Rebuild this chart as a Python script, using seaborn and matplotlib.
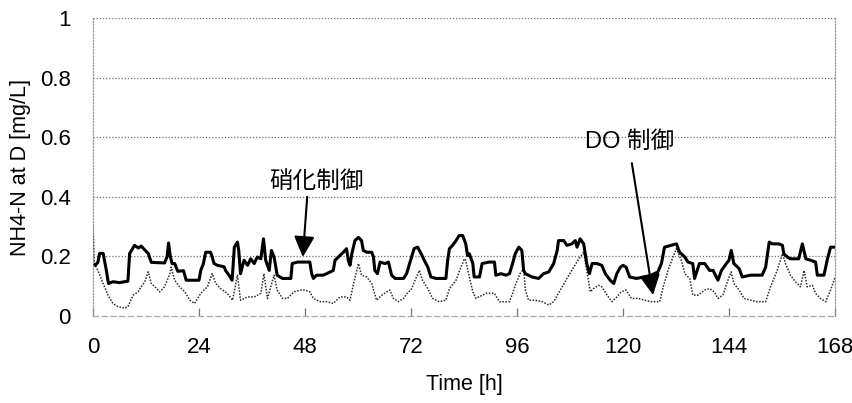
import numpy as np
import pandas as pd
import matplotlib
matplotlib.use("Agg")
import matplotlib.pyplot as plt
import seaborn as sns

# ---- data ----
t_nitri = [0, 0.5, 1.1, 1.5, 2.3, 3.0, 3.5, 4.5, 6.0, 7.9, 8.3, 9.4, 10.3, 10.9, 11.5, 12.5, 13.2, 16.2, 16.8, 17.1,
           17.5, 17.9, 18.5, 19.2, 20.5, 21.1, 23.0, 24.0, 24.4, 25.0, 25.5, 26.6, 27.0, 27.4, 28.2, 29.7, 30.0, 30.8,
           31.5, 32.0, 32.7, 33.0, 33.4, 34.2, 35.0, 35.7, 36.5, 37.2, 38.0, 38.6, 39.1, 39.9, 40.4, 41.0, 41.7, 42.9,
           44.8, 45.1, 46.3, 47.0, 49.1, 49.5, 49.9, 50.6, 52.1, 52.9, 54.4, 54.8, 55.9, 56.7, 57.4, 57.8, 58.2, 58.6,
           59.3, 60.1, 60.8, 61.2, 62.0, 63.1, 63.5, 63.8, 64.4, 65.0, 66.1, 66.9, 67.6, 68.4, 70.3, 71.0, 71.8, 72.7,
           73.5, 74.3, 75.0, 75.8, 76.5, 77.7, 79.9, 80.3, 80.7, 81.4, 82.2, 82.9, 83.7, 84.4, 84.8, 85.2, 86.0, 86.3,
           87.5, 88.1, 89.7, 90.9, 91.2, 92.4, 93.5, 94.3, 95.0, 95.6, 96.4, 97.1, 97.5, 97.9, 99.4, 100.9, 102.0,
           103.2, 104.3, 105.1, 105.4, 106.6, 107.3, 108.4, 109.2, 109.6, 110.3, 111.1, 111.8, 112.4, 113.0, 114.1,
           115.2, 116.0, 117.1, 117.9, 118.6, 119.4, 120.0, 120.7, 121.5, 123.0, 124.9, 126.4, 127.9, 128.7, 129.4,
           130.9, 132.1, 132.8, 134.0, 134.7, 135.8, 136.2, 137.3, 138.5, 139.6, 140.4, 141.5, 142.3, 143.4, 144.0,
           144.5, 145.1, 146.3, 147.0, 148.9, 150.8, 151.5, 152.3, 153.1, 153.8, 155.3, 156.1, 156.4, 157.2, 157.9,
           159.8, 160.6, 161.4, 162.5, 163.6, 164.0, 165.5, 166.3, 167.0, 168.0]
v_nitri = [0.176, 0.17, 0.18, 0.21, 0.21, 0.155, 0.109, 0.115, 0.112, 0.117, 0.21, 0.237, 0.228, 0.235, 0.225, 0.21,
           0.18, 0.178, 0.2, 0.245, 0.2, 0.176, 0.176, 0.15, 0.152, 0.12, 0.12, 0.12, 0.153, 0.176, 0.214, 0.214,
           0.198, 0.176, 0.17, 0.165, 0.153, 0.137, 0.12, 0.231, 0.248, 0.22, 0.142, 0.187, 0.17, 0.192, 0.176, 0.198,
           0.192, 0.259, 0.187, 0.153, 0.22, 0.198, 0.137, 0.126, 0.126, 0.176, 0.181, 0.181, 0.181, 0.142, 0.126,
           0.137, 0.137, 0.142, 0.153, 0.187, 0.203, 0.214, 0.226, 0.187, 0.17, 0.209, 0.253, 0.264, 0.253, 0.22,
           0.214, 0.214, 0.198, 0.153, 0.142, 0.181, 0.176, 0.181, 0.137, 0.126, 0.126, 0.142, 0.181, 0.226, 0.231,
           0.209, 0.187, 0.164, 0.131, 0.126, 0.126, 0.187, 0.226, 0.237, 0.253, 0.27, 0.27, 0.242, 0.203, 0.209,
           0.176, 0.131, 0.131, 0.176, 0.181, 0.181, 0.137, 0.142, 0.137, 0.142, 0.176, 0.209, 0.231, 0.22, 0.153,
           0.142, 0.131, 0.126, 0.142, 0.148, 0.176, 0.22, 0.253, 0.253, 0.237, 0.242, 0.253, 0.231, 0.259, 0.242,
           0.176, 0.142, 0.176, 0.176, 0.17, 0.142, 0.12, 0.109, 0.142, 0.164, 0.17, 0.164, 0.131, 0.126, 0.131,
           0.137, 0.148, 0.176, 0.231, 0.237, 0.242, 0.214, 0.198, 0.181, 0.176, 0.126, 0.176, 0.176, 0.153, 0.153,
           0.12, 0.153, 0.176, 0.187, 0.22, 0.176, 0.159, 0.131, 0.137, 0.137, 0.137, 0.164, 0.248, 0.242, 0.242,
           0.237, 0.209, 0.198, 0.192, 0.192, 0.242, 0.192, 0.187, 0.181, 0.137, 0.137, 0.192, 0.231, 0.231]

t_do = [0, 0.3, 1.1, 2.3, 3.4, 4.5, 5.7, 7.2, 7.9, 9.1, 10.2, 10.9, 11.7, 12.5, 13.2, 14.0, 15.1, 16.2, 17.4, 17.7,
        18.5, 19.6, 20.8, 21.9, 23.0, 24.4, 25.9, 27.0, 27.8, 28.9, 30.4, 31.6, 32.7, 33.4, 35.0, 36.5, 38.0, 38.7,
        39.5, 41.0, 41.7, 42.9, 44.0, 45.5, 47.0, 48.0, 49.1, 49.9, 51.4, 52.9, 54.4, 55.9, 57.4, 58.2, 58.9, 60.1,
        60.8, 62.0, 63.1, 64.2, 65.4, 66.5, 67.2, 68.0, 69.1, 70.3, 71.4, 72.0, 73.1, 73.9, 74.6, 75.8, 76.9, 78.4,
        79.9, 80.7, 82.2, 83.3, 84.1, 84.4, 85.2, 86.0, 86.7, 89.0, 90.9, 92.0, 94.3, 95.0, 95.6, 96.7, 97.5, 97.9,
        98.6, 100.1, 101.7, 103.2, 104.3, 105.8, 107.3, 108.4, 110.0, 111.1, 111.8, 112.6, 113.3, 114.5, 115.2,
        116.4, 117.5, 118.6, 119.6, 120.7, 121.9, 123.4, 124.9, 126.4, 128.3, 129.1, 130.2, 131.3, 132.1, 133.2,
        134.0, 135.1, 135.8, 137.0, 138.5, 139.6, 140.7, 141.5, 142.6, 143.6, 144.5, 145.1, 146.3, 147.4, 148.9,
        150.4, 152.3, 153.4, 154.9, 156.1, 156.8, 157.9, 159.1, 160.2, 161.0, 161.7, 162.9, 163.6, 164.7, 165.9,
        167.0, 168.0]
v_do = [0.3, 0.176, 0.153, 0.109, 0.07, 0.042, 0.031, 0.026, 0.031, 0.07, 0.081, 0.098, 0.114, 0.148, 0.109, 0.098,
        0.081, 0.098, 0.142, 0.164, 0.12, 0.098, 0.081, 0.053, 0.042, 0.076, 0.098, 0.142, 0.109, 0.092, 0.076,
        0.053, 0.137, 0.053, 0.064, 0.064, 0.076, 0.142, 0.059, 0.137, 0.087, 0.059, 0.059, 0.081, 0.087, 0.087,
        0.081, 0.059, 0.048, 0.048, 0.042, 0.064, 0.064, 0.053, 0.103, 0.176, 0.137, 0.131, 0.109, 0.053, 0.07,
        0.081, 0.087, 0.059, 0.048, 0.059, 0.081, 0.087, 0.126, 0.153, 0.12, 0.092, 0.059, 0.048, 0.053, 0.092,
        0.12, 0.164, 0.192, 0.187, 0.131, 0.081, 0.059, 0.076, 0.076, 0.048, 0.048, 0.076, 0.103, 0.142, 0.159,
        0.087, 0.053, 0.053, 0.048, 0.037, 0.048, 0.087, 0.126, 0.153, 0.192, 0.214, 0.153, 0.081, 0.092, 0.103,
        0.098, 0.07, 0.048, 0.064, 0.081, 0.087, 0.059, 0.059, 0.053, 0.048, 0.048, 0.098, 0.153, 0.198, 0.226,
        0.187, 0.142, 0.126, 0.07, 0.07, 0.087, 0.092, 0.081, 0.059, 0.07, 0.114, 0.148, 0.109, 0.087, 0.059,
        0.053, 0.048, 0.048, 0.098, 0.153, 0.209, 0.176, 0.137, 0.114, 0.098, 0.153, 0.098, 0.103, 0.076, 0.059,
        0.048, 0.087, 0.13]

x_ticks = [0, 24, 48, 72, 96, 120, 144, 168]
y_ticks = [0, 0.2, 0.4, 0.6, 0.8, 1.0]
y_tick_labels = ["0", "0.2", "0.4", "0.6", "0.8", "1"]

label_nitri = "硝化制御"
label_do = "DO 制御"

df_n = pd.DataFrame({"t": t_nitri, "v": v_nitri})
df_d = pd.DataFrame({"t": t_do, "v": v_do})

sns.set_theme(style="white")
plt.rcParams["font.family"] = ["Liberation Sans", "Noto Sans CJK JP", "DejaVu Sans"]
plt.rcParams["text.color"] = "black"
plt.rcParams["axes.labelcolor"] = "black"
plt.rcParams["xtick.color"] = "black"
plt.rcParams["ytick.color"] = "black"

fig = plt.figure(figsize=(8.52, 4.03), dpi=100)
ax = fig.add_axes([93 / 852, 1 - 316 / 403, (835 - 93) / 852, (316 - 18) / 403])

sns.lineplot(data=df_d, x="t", y="v", ax=ax, color="#2a2a2a", linewidth=1.1,
             linestyle=(0, (1, 1)), estimator=None, sort=False)
sns.lineplot(data=df_n, x="t", y="v", ax=ax, color="black", linewidth=2.2,
             estimator=None, sort=False)

ax.set_xlim(0, 168)
ax.set_ylim(0, 1)
ax.set_xticks(x_ticks)
ax.set_xticklabels([str(x) for x in x_ticks])
ax.set_yticks(y_ticks)
ax.set_yticklabels(y_tick_labels)

for y in y_ticks[1:]:
    ax.axhline(y, color="#707070", linewidth=0.9, linestyle=(0, (1, 1.5)), zorder=0)

for s in ["left", "right"]:
    ax.spines[s].set_visible(True)
    ax.spines[s].set_color("#999999")
    ax.spines[s].set_linewidth(0.9)
    ax.spines[s].set_linestyle((0, (1, 1.5)))
ax.spines["top"].set_visible(False)
ax.spines["bottom"].set_color("#aaaaaa")
ax.spines["bottom"].set_linewidth(0.9)
ax.spines["bottom"].set_linestyle((0, (4, 3)))

ax.tick_params(axis="x", direction="in", length=6, width=0.9, color="#777777",
               pad=15, labelsize=16, bottom=True, labelcolor="black")
ax.tick_params(axis="y", length=0, pad=16, labelsize=16, left=True, labelcolor="black")

ax.set_xlabel("Time [h]", fontsize=15.5)
ax.set_ylabel("NH4-N at D [mg/L]", fontsize=15.5)
ax.xaxis.set_label_coords(0.5, -0.195)
ax.yaxis.set_label_coords(-0.084, 0.5)

arrow_kw = dict(arrowstyle="-|>,head_length=0.9,head_width=0.45", mutation_scale=14,
                color="black", lw=1.5, shrinkA=0, shrinkB=0)
ax.annotate("", xy=(47.5, 0.198), xytext=(48.5, 0.40), arrowprops=arrow_kw)
ax.annotate("", xy=(126.8, 0.07), xytext=(122.0, 0.513), arrowprops=arrow_kw)
ax.text(50.7, 0.453, label_nitri, fontsize=17, ha="center", va="center",
        family=["Noto Sans CJK JP", "Liberation Sans"])
ax.text(121.6, 0.584, label_do, fontsize=17, ha="center", va="center",
        family=["Liberation Sans", "Noto Sans CJK JP"])

fig.savefig("out.png", dpi=100)
